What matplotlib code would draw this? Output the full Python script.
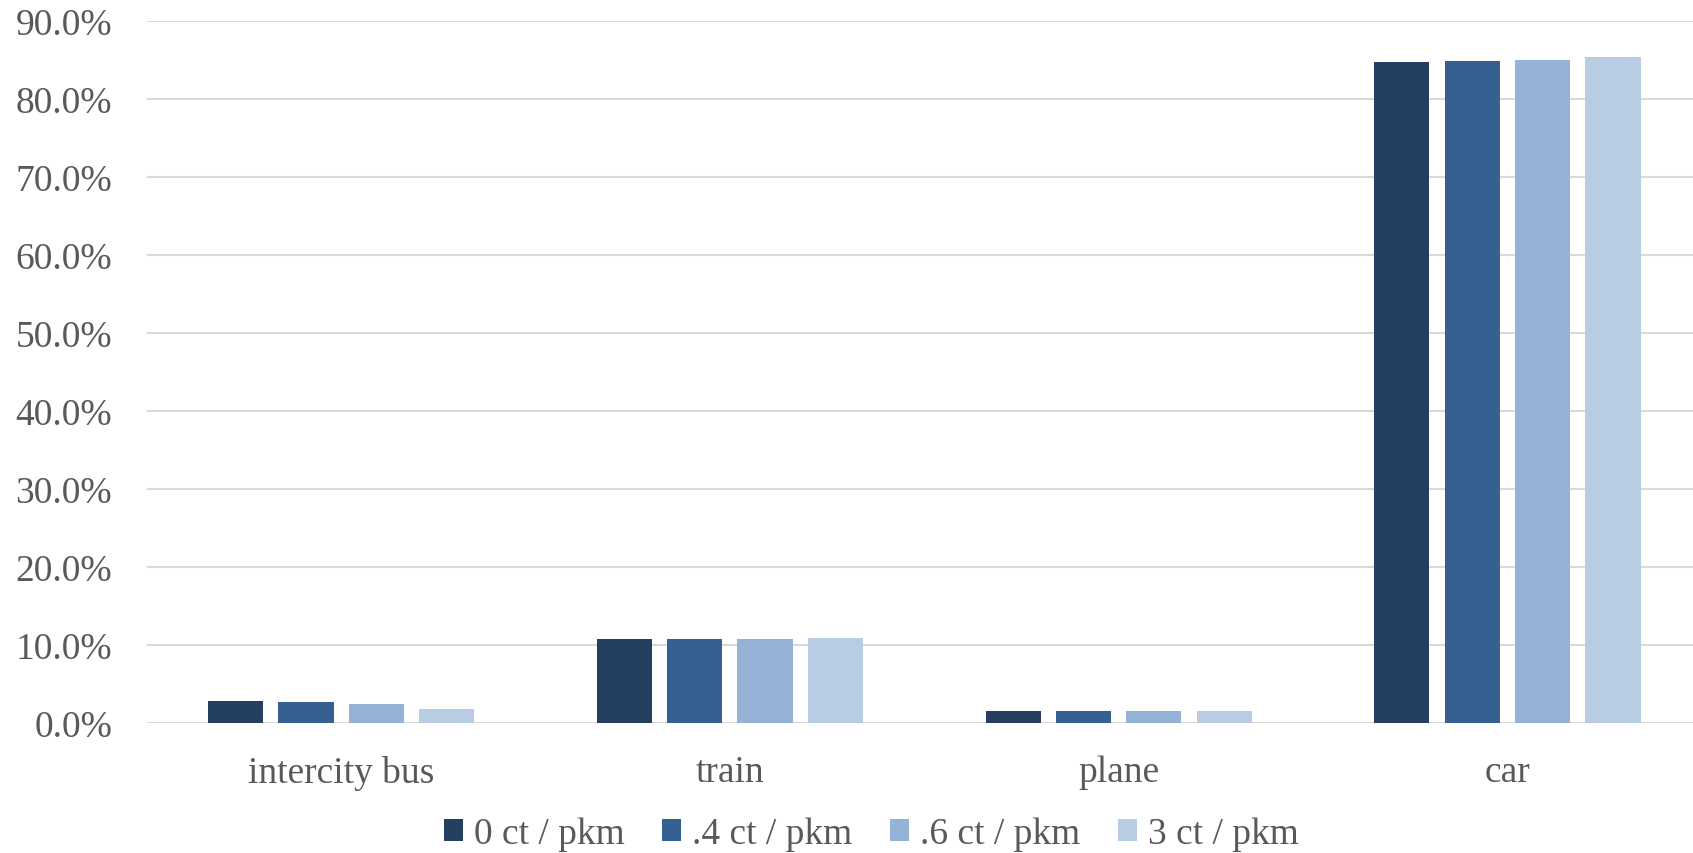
import matplotlib as mpl
mpl.use("Agg")
import matplotlib.pyplot as plt
import numpy as np

# modal split share (%) per transport mode, for each CO2 price level
modes = ['intercity bus', 'train', 'plane', 'car']
series_names = ['0 ct / pkm', '.4 ct / pkm', '.6 ct / pkm', '3 ct / pkm']
share_0 = [2.74, 10.70, 1.46, 84.7]
share_04 = [2.65, 10.70, 1.46, 84.8]
share_06 = [2.40, 10.75, 1.46, 85.0]
share_3 = [1.80, 10.90, 1.46, 85.4]
yticks = [0, 10, 20, 30, 40, 50, 60, 70, 80, 90]

colors = ['#243F60', '#366092', '#95B3D7', '#B8CCE4']

plt.rcParams['font.family'] = ['Liberation Serif', 'DejaVu Serif']

fig = plt.figure(figsize=(16.93, 8.54), dpi=100)
ax = fig.add_axes([0.0867, 0.1526, 0.9185, 0.822])

x = np.arange(len(modes))
step = 0.181
width = 0.142
for i, (vals, name, c) in enumerate(zip([share_0, share_04, share_06, share_3], series_names, colors)):
  ax.bar(x + (i - 1.5) * step, vals, width, color=c, label=name, zorder=3)

ax.set_xlim(-0.5, len(modes) - 0.5)
ax.set_ylim(0, 90)
ax.set_yticks(yticks)
ax.set_yticklabels(['%.1f%%' % t for t in yticks])
ax.set_xticks(x)
ax.set_xticklabels(modes)
ax.tick_params(axis='both', length=0, labelsize=27, labelcolor='#595959')
ax.tick_params(axis='y', pad=25)
ax.tick_params(axis='x', pad=23)
ax.grid(axis='y', color='#D9D9D9', linewidth=1.5, zorder=0)
for s in ax.spines.values():
  s.set_visible(False)

fig.legend(loc='center', bbox_to_anchor=(0.5148, 0.022), ncol=4, frameon=False,
           fontsize=27, handlelength=0.5, handleheight=0.5, handletextpad=0.3,
           columnspacing=1.0, labelcolor='#595959')

plt.savefig('out.png')
